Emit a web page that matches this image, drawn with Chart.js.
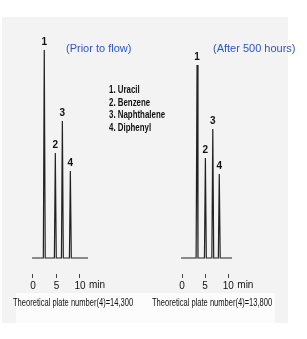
<!DOCTYPE html>
<html>
<head>
<meta charset="utf-8">
<script src="https://cdn.jsdelivr.net/npm/chart.js@4.4.1/dist/chart.umd.min.js"></script>
<style>
  html, body { margin: 0; padding: 0; background: #fff; }
  body { width: 307px; height: 339px; position: relative; overflow: hidden; font-family: "Liberation Sans", Arial, sans-serif; }
  .panel { position: absolute; left: 2px; top: 17px; width: 286px; height: 306px; background: #f3f3f3; }
  .foot { position: absolute; left: 16px; top: 293px; width: 259px; height: 30px; background: #fcfcfc; }
  canvas { position: absolute; top: 0; }
  .title { position: absolute; color: #2b57c4; font-size: 11px; line-height: 13px; white-space: nowrap; }
  .legend { position: absolute; left: 109px; top: 84px; font: bold 10px/12.7px "Liberation Sans Narrow", "Liberation Sans", sans-serif; color: #111; white-space: nowrap; transform-origin: left top; }
  .plate { position: absolute; top: 297px; font-size: 10px; line-height: 12px; color: #111; white-space: nowrap; transform-origin: left center; }
</style>
</head>
<body>
<div class="panel"></div>
<div class="foot"></div>
<canvas id="prior" width="150" height="339" style="left:0"></canvas>
<canvas id="after" width="157" height="339" style="left:150px"></canvas>
<div class="title" style="left:66px; top:42px">(Prior to flow)</div>
<div class="title" style="left:213px; top:42px">(After 500 hours)</div>
<div class="legend fit" data-w="56">1. Uracil<br>2. Benzene<br>3. Naphthalene<br>4. Diphenyl</div>
<div class="plate fit" data-w="120" style="left:13px">Theoretical plate number(4)=14,300</div>
<div class="plate fit" data-w="120" style="left:152px">Theoretical plate number(4)=13,800</div>
<script>
// retention time (min) and detector signal
const priorTime   = [-0.2, 2.2, 2.4, 2.6, 4.55, 4.75, 4.95, 6.05, 6.25, 6.45, 7.75, 7.95, 8.15, 11.7];
const priorSignal = [0, 0, 100, 0, 0, 50.5, 0, 0, 65.9, 0, 0, 41.8, 0, 0];
const afterTime   = [-0.2, 3.05, 3.25, 3.45, 4.85, 5.05, 5.25, 6.45, 6.65, 6.85, 7.85, 8.05, 8.25, 10.8];
const afterSignal = [0, 0, 92.8, 0, 0, 48.1, 0, 0, 62, 0, 0, 40.4, 0, 0];
const peakNames = ['1', '2', '3', '4'];
const xTicks = [0, 5, 10];

const narrowBold = 'bold 10px "Liberation Sans Narrow", "Liberation Sans", sans-serif';

// numbers over the peaks and the "min" unit after the last tick
const peakLabels = {
  id: 'peakLabels',
  afterDraw(chart) {
    const { ctx, scales: { x, y } } = chart;
    const pts = chart.data.datasets[0].data;
    ctx.save();
    ctx.font = narrowBold;
    ctx.fillStyle = '#111';
    ctx.textAlign = 'center';
    ctx.textBaseline = 'bottom';
    let n = 0;
    pts.forEach(p => {
      if (p.y > 0) {
        ctx.fillText(peakNames[n++], x.getPixelForValue(p.x), y.getPixelForValue(p.y) - 3);
      }
    });
    ctx.font = '10px "Liberation Sans", Arial, sans-serif';
    ctx.textAlign = 'left';
    ctx.textBaseline = 'top';
    ctx.fillText('min', x.getPixelForValue(10) + 9, x.top + 6);
    ctx.restore();
  }
};

function makeChart(id, times, signal, xMin, xMax) {
  return new Chart(document.getElementById(id), {
    type: 'scatter',
    data: {
      datasets: [{
        data: times.map((t, i) => ({ x: t, y: signal[i] })),
        showLine: true,
        borderColor: '#222',
        borderWidth: 1.2,
        pointRadius: 0,
        tension: 0
      }]
    },
    options: {
      responsive: false,
      animation: false,
      devicePixelRatio: 1,
      layout: { padding: { left: 10, right: 10, top: 30, bottom: 35 } },
      plugins: { legend: { display: false }, tooltip: { enabled: false } },
      scales: {
        x: {
          type: 'linear',
          min: xMin,
          max: xMax,
          afterBuildTicks(scale) { scale.ticks = xTicks.map(v => ({ value: v })); },
          afterFit(scale) { scale.height = 30; },
          border: { display: false },
          grid: { drawOnChartArea: false, drawTicks: true, tickLength: 4, color: '#444', lineWidth: 1 },
          ticks: { color: '#111', padding: 2, font: { size: 10, family: '"Liberation Sans", Arial, sans-serif' }, maxRotation: 0, autoSkip: false }
        },
        y: { display: false, min: -7.69, max: 109.6 }
      }
    },
    plugins: [peakLabels]
  });
}

makeChart('prior', priorTime, priorSignal, -4.894, 22.77);
makeChart('after', afterTime, afterSignal, -4.752, 24.84);

// squeeze the text blocks to the narrow widths of the original
document.querySelectorAll('.fit').forEach(el => {
  const w = +el.dataset.w;
  el.style.transform = 'scaleX(' + (w / el.offsetWidth) + ')';
});
</script>
</body>
</html>
